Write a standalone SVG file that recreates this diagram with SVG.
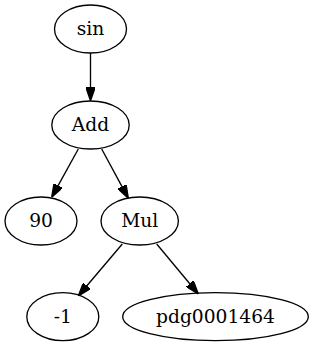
<svg xmlns="http://www.w3.org/2000/svg" width="314" height="347" viewBox="0 0 314 347">
<style>
.n ellipse{fill:none;stroke:#000;stroke-width:1.33}
.n text{font-family:"DejaVu Serif","Liberation Serif",serif;font-size:18.67px;text-anchor:middle;fill:#000}
#edges line{stroke:#000;stroke-width:1.33;marker-end:url(#ah)}
</style>
<defs>
<marker id="ah" viewBox="0 0 13.33 9.33" refX="0" refY="4.67" markerWidth="13.33" markerHeight="9.33" markerUnits="userSpaceOnUse" orient="auto">
<path d="M0,0 L13.33,4.67 L0,9.33 Z" fill="#000" stroke="#000" stroke-width="1.33"/>
</marker>
</defs>
<rect width="314" height="347" fill="#fff"/>
<g id="edges">
<line x1="90.5" y1="53" x2="90.5" y2="87.4"/>
<line x1="78.3" y1="149" x2="58.1" y2="185.6"/>
<line x1="101.7" y1="149" x2="122.0" y2="186.6"/>
<line x1="122.3" y1="244" x2="86.9" y2="285.8"/>
<line x1="156.7" y1="244" x2="189.8" y2="283.7"/>
</g>
<g id="sin" class="n"><ellipse cx="90.5" cy="29" rx="36" ry="24"/><text x="90.5" y="35">sin</text></g>
<g id="add" class="n"><ellipse cx="90.5" cy="125" rx="38.7" ry="24"/><text x="90.5" y="131">Add</text></g>
<g id="n90" class="n"><ellipse cx="41" cy="221" rx="36" ry="24"/><text x="41" y="227">90</text></g>
<g id="mul" class="n"><ellipse cx="139.7" cy="221" rx="38.7" ry="24"/><text x="139.7" y="227">Mul</text></g>
<g id="neg1" class="n"><ellipse cx="62.8" cy="316.7" rx="36" ry="24"/><text x="62.8" y="322.7">-1</text></g>
<g id="pdg" class="n"><ellipse cx="215.5" cy="316.7" rx="92.8" ry="24"/><text x="215.5" y="322.7">pdg0001464</text></g>
</svg>
